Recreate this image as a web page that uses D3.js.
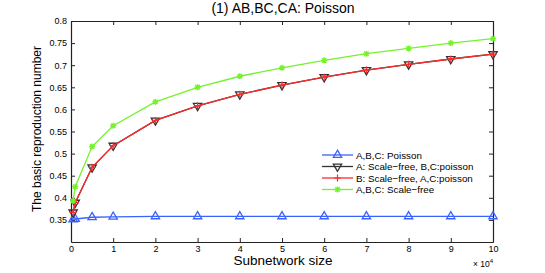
<!DOCTYPE html>
<html>
<head>
<meta charset="utf-8">
<script src="https://cdn.jsdelivr.net/npm/d3@7"></script>
<style>
  body { margin: 0; background: #fff; }
  text { font-family: "Liberation Sans", Arial, sans-serif; fill: #000; }
</style>
</head>
<body>
<div id="chart"></div>
<script>
var width = 545;
var height = 273;

// subnetwork sizes
var sizes = [500, 1000, 5000, 10000, 20000, 30000, 40000, 50000, 60000, 70000, 80000, 90000, 100000];

var poissonAll = [0.351, 0.352, 0.356, 0.357, 0.358, 0.358, 0.358, 0.358, 0.358, 0.358, 0.358, 0.358, 0.358];
var scaleFreeA = [0.367, 0.389, 0.469, 0.518, 0.575, 0.608, 0.634, 0.655, 0.673, 0.689, 0.702, 0.714, 0.725];
var scaleFreeB = [0.367, 0.389, 0.469, 0.518, 0.575, 0.608, 0.634, 0.655, 0.673, 0.689, 0.702, 0.714, 0.725];
var scaleFreeAll = [0.393, 0.425, 0.516, 0.563, 0.617, 0.650, 0.675, 0.694, 0.711, 0.726, 0.738, 0.750, 0.760];

var seriesNames = ["A,B,C: Poisson", "A: Scale\u2212free, B,C:poisson", "B: Scale\u2212free, A,C:poisson", "A,B,C: Scale\u2212free"];
var xTicks = [0, 10000, 20000, 30000, 40000, 50000, 60000, 70000, 80000, 90000, 100000];
var yTicks = [0.35, 0.4, 0.45, 0.5, 0.55, 0.6, 0.65, 0.7, 0.75, 0.8];

var margin = {left: 71, right: 52, top: 21, bottom: 31};

var xScale = d3.scaleLinear().domain([0, 100000]).range([margin.left, width - margin.right]);
var yScale = d3.scaleLinear().domain([0.3, 0.8]).range([height - margin.bottom, margin.top]);

var svg = d3.select("#chart")
    .append("svg")
    .attr("width", width)
    .attr("height", height);

// axes (ticks inside, like matlab)
var xAxis = d3.axisBottom(xScale).tickValues(xTicks).tickSizeInner(-4).tickSizeOuter(0).tickPadding(4)
    .tickFormat(function(d) { return d / 10000; });
var yAxis = d3.axisLeft(yScale).tickValues(yTicks).tickSizeInner(-4).tickSizeOuter(0).tickPadding(4)
    .tickFormat(function(d) { return d3.format("")(+d.toFixed(2)); });
var xAxisTop = d3.axisTop(xScale).tickValues(xTicks).tickSizeInner(-4).tickSizeOuter(0).tickFormat("");
var yAxisRight = d3.axisRight(yScale).tickValues(yTicks).tickSizeInner(-4).tickSizeOuter(0).tickFormat("");

var gx = svg.append("g").attr("transform", "translate(0," + yScale(0.3) + ")").call(xAxis);
var gy = svg.append("g").attr("transform", "translate(" + xScale(0) + ",0)").call(yAxis);
var gxt = svg.append("g").attr("transform", "translate(0," + yScale(0.8) + ")").call(xAxisTop);
var gyr = svg.append("g").attr("transform", "translate(" + xScale(100000) + ",0)").call(yAxisRight);

[gx, gy, gxt, gyr].forEach(function(g) {
    g.selectAll("path").attr("stroke", "#222").attr("stroke-width", 1.2);
    g.selectAll("line").attr("stroke", "#222");
    g.selectAll("text").style("font-size", "9px");
});

// lines + markers
var line = d3.line()
    .x(function(d) { return xScale(d[0]); })
    .y(function(d) { return yScale(d[1]); });

function pts(vals) {
    return sizes.map(function(s, i) { return [s, vals[i]]; });
}

var tri = d3.symbol().type(d3.symbolTriangle).size(30);

function drawMarker(g, type, color) {
    if (type == "up") {
        g.append("path").attr("d", tri()).attr("fill", "none").attr("stroke", color).attr("stroke-width", 1.3);
    } else if (type == "down") {
        g.append("path").attr("d", tri()).attr("transform", "rotate(180)")
            .attr("fill", "none").attr("stroke", color).attr("stroke-width", 1.3);
    } else if (type == "plus") {
        g.append("path").attr("d", "M-3.5,0H3.5M0,-3.5V3.5").attr("stroke", color).attr("stroke-width", 1.2);
    } else if (type == "star") {
        g.append("path").attr("d", "M-3,0H3M0,-3V3M-2.2,-2.2L2.2,2.2M-2.2,2.2L2.2,-2.2")
            .attr("stroke", color).attr("stroke-width", 1.4);
    }
}

var series = [
    {vals: poissonAll, color: "#3a62ff", marker: "up"},
    {vals: scaleFreeA, color: "#333333", marker: "down"},
    {vals: scaleFreeB, color: "#ff2a2a", marker: "plus"},
    {vals: scaleFreeAll, color: "#74f22c", marker: "star"}
];

series.forEach(function(s) {
    svg.append("path")
        .datum(pts(s.vals))
        .attr("fill", "none")
        .attr("stroke", s.color)
        .attr("stroke-width", 1.3)
        .attr("d", line);
    svg.selectAll(null)
        .data(pts(s.vals))
        .enter()
        .append("g")
        .attr("transform", function(d) { return "translate(" + xScale(d[0]) + "," + yScale(d[1]) + ")"; })
        .each(function() { drawMarker(d3.select(this), s.marker, s.color); });
});

// legend
var legend = svg.append("g").attr("transform", "translate(322,155)");
series.forEach(function(s, i) {
    var row = legend.append("g").attr("transform", "translate(0," + (i * 11.5) + ")");
    row.append("line").attr("x1", 0).attr("x2", 31).attr("y1", 0).attr("y2", 0)
        .attr("stroke", s.color).attr("stroke-width", 1.3);
    drawMarker(row.append("g").attr("transform", "translate(15.5,0)"), s.marker, s.color);
    row.append("text").attr("x", 34).attr("y", 3.5).style("font-size", "9.8px").text(seriesNames[i]);
});

// labels
svg.append("text")
    .attr("x", 283).attr("y", 13)
    .style("text-anchor", "middle").style("font-size", "14px")
    .text("(1) AB,BC,CA: Poisson");

svg.append("text")
    .attr("x", 283).attr("y", 265)
    .style("text-anchor", "middle").style("font-size", "13.5px")
    .text("Subnetwork size");

svg.append("text")
    .attr("transform", "translate(41,129) rotate(-90)")
    .style("text-anchor", "middle").style("font-size", "12px")
    .text("The basic reproduction number");

var mult = svg.append("text").attr("x", 473).attr("y", 267).style("font-size", "8.5px");
mult.append("tspan").text("\u00d7 10");
mult.append("tspan").attr("dy", -4).style("font-size", "6px").text("4");
</script>
</body>
</html>
